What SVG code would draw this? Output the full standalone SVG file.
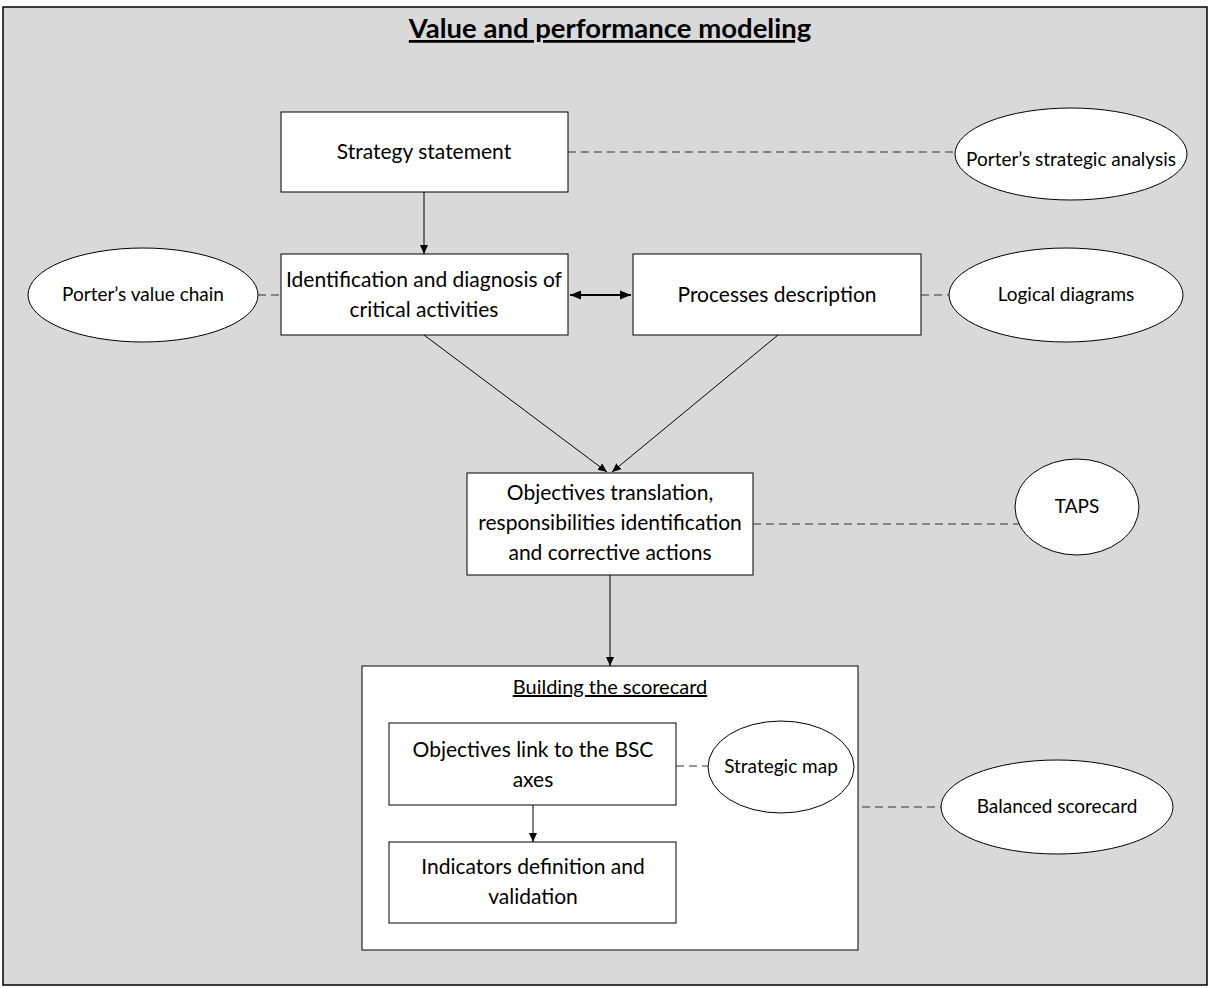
<svg xmlns="http://www.w3.org/2000/svg" width="1210" height="988" viewBox="0 0 1210 988">
<style>
  text { font-family: Lato, "Open Sans", sans-serif; fill: #000; text-anchor: middle; }
  .box { fill: #fff; stroke: #000; stroke-width: 1; }
  .ell { fill: #fff; stroke: #000; stroke-width: 1; }
  .t { font-size: 21px; }
  .e { font-size: 19px; }
  .arrow { stroke: #000; stroke-width: 1; fill: none; marker-end: url(#ah); }
  .dash { stroke: #333; stroke-width: 1.2; stroke-dasharray: 8 5; fill: none; }
</style>
<defs>
  <marker id="ah" markerWidth="10" markerHeight="10" refX="9" refY="5" orient="auto" markerUnits="userSpaceOnUse">
    <path d="M0,1 L9,5 L0,9 Z" fill="#000"/>
  </marker>
  <marker id="ah2" markerWidth="12" markerHeight="12" refX="11" refY="6" orient="auto-start-reverse" markerUnits="userSpaceOnUse">
    <path d="M0,1.5 L11,6 L0,10.5 Z" fill="#000"/>
  </marker>
</defs>
<rect x="3" y="7" width="1204" height="978" fill="#d9d9d9" stroke="#000" stroke-width="1.5"/>
<text x="610" y="38" style="font-size:27.5px;font-weight:bold;text-decoration:underline">Value and performance modeling</text>

<g id="building-scorecard">
  <rect class="box" x="362" y="666" width="496" height="284"/>
  <text x="610" y="694" style="font-size:20px;text-decoration:underline">Building the scorecard</text>
</g>
<g id="strategy-statement">
  <rect class="box" x="281" y="112" width="287" height="80"/>
  <text class="t" x="424" y="159">Strategy statement</text>
</g>
<g id="porters-strategic-analysis">
  <ellipse class="ell" cx="1071" cy="154" rx="116" ry="46"/>
  <text class="e" x="1071" y="166">Porter’s strategic analysis</text>
</g>
<g id="identification">
  <rect class="box" x="281" y="254" width="287" height="81"/>
  <text class="t" x="424" y="287">Identification and diagnosis of</text>
  <text class="t" x="424" y="317">critical activities</text>
</g>
<g id="porters-value-chain">
  <ellipse class="ell" cx="143" cy="295" rx="115" ry="47"/>
  <text class="e" x="143" y="301">Porter’s value chain</text>
</g>
<g id="processes-description">
  <rect class="box" x="633" y="254" width="288" height="81"/>
  <text class="t" x="777" y="302">Processes description</text>
</g>
<g id="logical-diagrams">
  <ellipse class="ell" cx="1066" cy="295" rx="117" ry="47"/>
  <text class="e" x="1066" y="301">Logical diagrams</text>
</g>
<g id="objectives-translation">
  <rect class="box" x="467" y="473" width="286" height="102"/>
  <text class="t" x="610" y="500">Objectives translation,</text>
  <text class="t" x="610" y="530">responsibilities identification</text>
  <text class="t" x="610" y="560">and corrective actions</text>
</g>
<g id="taps">
  <ellipse class="ell" cx="1077" cy="507" rx="62" ry="48"/>
  <text class="e" x="1077" y="513">TAPS</text>
</g>
<g id="objectives-link">
  <rect class="box" x="389" y="723" width="287" height="82"/>
  <text class="t" x="533" y="757">Objectives link to the BSC</text>
  <text class="t" x="533" y="787">axes</text>
</g>
<g id="indicators">
  <rect class="box" x="389" y="842" width="287" height="81"/>
  <text class="t" x="533" y="874">Indicators definition and</text>
  <text class="t" x="533" y="904">validation</text>
</g>
<g id="strategic-map">
  <ellipse class="ell" cx="781" cy="767" rx="73" ry="46"/>
  <text class="e" x="781" y="773">Strategic map</text>
</g>
<g id="balanced-scorecard">
  <ellipse class="ell" cx="1057" cy="807" rx="116" ry="47"/>
  <text class="e" x="1057" y="813">Balanced scorecard</text>
</g>

<g id="connectors">
  <line class="arrow" x1="424" y1="192" x2="424" y2="254"/>
  <line x1="570" y1="295" x2="631" y2="295" stroke="#000" stroke-width="2" marker-start="url(#ah2)" marker-end="url(#ah2)"/>
  <line class="arrow" x1="424" y1="335" x2="607" y2="472"/>
  <line class="arrow" x1="778" y1="335" x2="612" y2="472"/>
  <line class="arrow" x1="610" y1="575" x2="610" y2="666"/>
  <line class="arrow" x1="533" y1="805" x2="533" y2="842"/>
  <line class="dash" x1="568" y1="152" x2="955" y2="152"/>
  <line class="dash" x1="258" y1="295" x2="281" y2="295"/>
  <line class="dash" x1="921" y1="295" x2="949" y2="295"/>
  <line class="dash" x1="753" y1="524" x2="1019" y2="524"/>
  <line class="dash" x1="676" y1="766" x2="708" y2="766"/>
  <line class="dash" x1="862" y1="807" x2="941" y2="807"/>
</g>
</svg>
